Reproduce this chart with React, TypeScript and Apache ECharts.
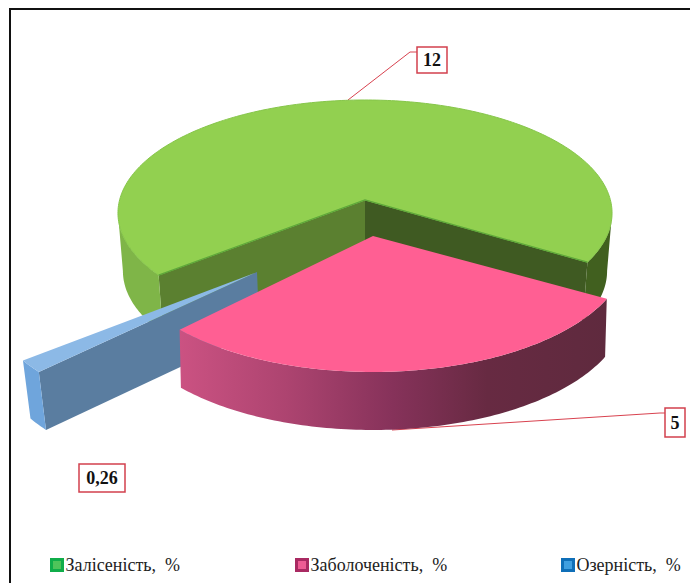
import React, { useEffect, useRef } from "react";
import * as echarts from "echarts";

const names = ["Залісеність,  %", "Заболоченість,  %", "Озерність,  %"];
const values = [12, 5, 0.26];
const labels = ["12", "5", "0,26"];
const order = [0, 2, 1]; // paint order

const W = 690, H = 583;
const CX = 365, CY = 200, DEPTH = 58;
const PINK_START = 29.8;
const BLUE_GAP = 1.8;
const total = values.reduce((a, b) => a + b, 0);

// per slice projection: [green, pink, blue]
const offsets: number[][] = [[0, 0], [8, 36], [-108, 72]];
const radii = [1, 1, 1.1];
const scaleX = [245.4, 252, 244];
const scaleY = [111.5, 118.3, 115.25];
const persp = [0.115, 0.13, 0.1525];
const shrink = [0.98, 0.993, 0.978];

function angles(i: number): [number, number] {
  const pink = (values[1] / total) * 360;
  const blue = (values[2] / total) * 360;
  const green = (values[0] / total) * 360;
  const blueStart = PINK_START + pink + BLUE_GAP;
  if (i === 1) return [PINK_START, PINK_START + pink];
  if (i === 2) return [blueStart, blueStart + blue];
  return [blueStart + blue, blueStart + blue + green];
}
const lower = (i: number, p: number[]) => [CX + (p[0] - CX) * shrink[i], p[1] + DEPTH];
function pt(i: number, deg: number, r = 1, low = false): number[] {
  const t = (deg * Math.PI) / 180;
  const rr = radii[i] * r;
  const u = rr * Math.cos(t);
  const v = rr * Math.sin(t);
  const w = 1 - persp[i] * v;
  const p = [CX + offsets[i][0] + (scaleX[i] * u) / w, CY + offsets[i][1] + (scaleY[i] * v) / w];
  return low ? lower(i, p) : p;
}
function arc(i: number, a: number, b: number, low = false) {
  const out: number[][] = [];
  const n = Math.max(2, Math.ceil(Math.abs(b - a)));
  for (let j = 0; j <= n; j++) out.push(pt(i, a + ((b - a) * j) / n, 1, low));
  return out;
}
function poly(points: number[][], fill: any, stroke = "none") {
  return { type: "polygon", shape: { points }, style: { fill, stroke, lineWidth: stroke === "none" ? 0 : 1 } };
}
function wall(i: number, p: number[], q: number[], fill: any) {
  return poly([p, q, lower(i, q), lower(i, p)], fill);
}
const hGrad = (stops: [number, string][]) => ({
  type: "linear", x: 0, y: 0, x2: 1, y2: 0,
  colorStops: stops.map(([offset, color]) => ({ offset, color })),
});

function renderSlice(i: number) {
  const [a, b] = angles(i);
  const c = pt(i, 0, 0);
  const pa = pt(i, a);
  const pb = pt(i, b);
  const children: any[] = [];
  if (i === 0) {
    const widest = (Math.asin(persp[0]) * 180) / Math.PI;
    children.push(wall(i, c, pa, "#5b8030"));
    children.push(wall(i, c, pb, "#3f5a22"));
    children.push(poly([...arc(i, a, 180 - widest), ...arc(i, a, 180 - widest, true).reverse()], "#7fb548"));
    children.push(poly([...arc(i, 360 + widest, b), ...arc(i, 360 + widest, b, true).reverse()], "#41601f"));
    children.push(poly([c, ...arc(i, a, b)], "#92d050", "#86c64a"));
    children.push({ type: "polyline", shape: { points: [pa, c, pb] }, style: { stroke: "#5ea83a", lineWidth: 1.2, fill: "none" } });
  } else if (i === 1) {
    children.push(poly([...arc(i, a, b), ...arc(i, a, b, true).reverse()],
      hGrad([[0, "#cb5282"], [0.25, "#ad4470"], [0.5, "#86325a"], [0.72, "#672a42"], [1, "#5f2a3e"]])));
    children.push(poly([c, ...arc(i, a, b)], "#ff5f93"));
  } else {
    children.push(wall(i, c, pa, "#5a7da0"));
    children.push(poly([...arc(i, a, b), ...arc(i, a, b, true).reverse()], "#6fa5dc"));
    children.push(poly([c, ...arc(i, a, b)], "#8cb9e6"));
  }
  return { type: "group", children };
}

function labelBox(text: string, x: number, y: number, w: number, h: number) {
  return {
    type: "group",
    children: [
      { type: "rect", shape: { x, y, width: w, height: h }, style: { fill: "#fff", stroke: "#d2404e", lineWidth: 1.5 } },
      {
        type: "text", x: x + w / 2, y: y + h / 2,
        style: { text, fill: "#111", font: 'bold 18px "Liberation Serif"', align: "center", verticalAlign: "middle" },
      },
    ],
  };
}
const leader = (points: number[][]) => ({
  type: "polyline", shape: { points }, style: { stroke: "#d8424f", lineWidth: 1, fill: "none" },
});

const legendColors = [
  { c: "#4fc45a", b: "#10ad4a" },
  { c: "#ee5c94", b: "#a92a62" },
  { c: "#3f9fe0", b: "#0f6fb8" },
];
const legendLeft = [50, 295, 561];

export default function App() {
  const ref = useRef<HTMLDivElement>(null);
  useEffect(() => {
    document.body.style.margin = "0";
    const chart = echarts.init(ref.current!, undefined, { renderer: "svg" });
    chart.setOption({
      animation: false,
      backgroundColor: "#fff",
      legend: names.map((n, i) => ({
        left: legendLeft[i], top: 556, itemWidth: 11, itemHeight: 11, itemGap: 3, padding: 0,
        selectedMode: false, icon: "rect",
        textStyle: { fontFamily: "Liberation Serif", fontSize: 18, color: "#222", padding: [0, 0, 0, -2] },
        data: [{ name: n, itemStyle: { color: legendColors[i].c, borderColor: legendColors[i].b, borderWidth: 3 } }],
      })),
      graphic: [
        { type: "rect", z: 0, shape: { x: 10, y: 9, width: 690, height: 600 }, style: { fill: "none", stroke: "#111", lineWidth: 2 } },
        { type: "group", z: 10, children: [
          leader([[348, 100], [410, 52], [417, 52]]),
          leader([[392, 430], [660, 413], [665, 413]]),
          labelBox(labels[0], 417, 47, 30, 26),
          labelBox(labels[1], 665, 408, 20, 29),
          labelBox(labels[2], 79, 464, 46, 28),
        ] },
      ],
      series: order.map((i, idx) => ({
        type: "custom",
        name: names[i],
        coordinateSystem: "none",
        z: 2 + idx,
        silent: true,
        data: [[values[i]]],
        renderItem: () => renderSlice(i),
      })),
    });
    return () => chart.dispose();
  }, []);
  return <div ref={ref} style={{ width: W, height: H }} />;
}
